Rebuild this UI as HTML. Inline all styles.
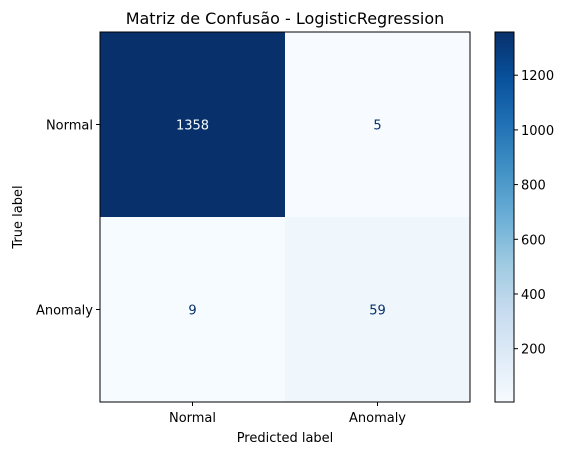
<!DOCTYPE html>
<html><head><meta charset="utf-8"><style>
body{margin:0;background:#fff;}
svg{display:block;font-family:"DejaVu Sans","Liberation Sans",sans-serif;}
</style></head><body>
<svg id="chart" width="568" height="455"></svg>
<script>
const classes = ["Normal", "Anomaly"];
const matrix = [[1358, 5], [9, 59]];
const cbTicks = [200, 400, 600, 800, 1000, 1200];
const blues = ["#f7fbff","#deebf7","#c6dbef","#9ecae1","#6baed6","#4292c6","#2171b5","#08519c","#08306b"];

const NS = "http://www.w3.org/2000/svg";
const svg = document.getElementById("chart");
function mk(tag, attrs, parent){const e=document.createElementNS(NS,tag);for(const k in attrs)e.setAttribute(k,attrs[k]);(parent||svg).appendChild(e);return e;}
function hex(h){return [1,3,5].map(i=>parseInt(h.substr(i,2),16));}
function cmap(t){t=Math.max(0,Math.min(1,t));const p=t*(blues.length-1);const i=Math.min(Math.floor(p),blues.length-2);const f=p-i;const a=hex(blues[i]),b=hex(blues[i+1]);return "rgb("+a.map((v,k)=>Math.round(v+(b[k]-v)*f)).join(",")+")";}

const X0=100,Y0=32,W=370,H=370;
const n=classes.length, cw=W/n, ch=H/n;
const all=matrix.flat(); const vmin=Math.min(...all), vmax=Math.max(...all);
const norm=v=>(v-vmin)/(vmax-vmin);

const title=mk("text",{x:285,y:24,"text-anchor":"middle","font-size":"16px"});
title.textContent="Matriz de Confusão - LogisticRegression";



matrix.forEach((row,r)=>row.forEach((v,c)=>{
  const rect=mk("rect",{x:X0+c*cw,y:Y0+r*ch,width:cw,height:ch,fill:cmap(norm(v))});
  
  
  const t=mk("text",{x:X0+(c+.5)*cw,y:Y0+(r+.5)*ch+5,"text-anchor":"middle","font-size":"13px",fill:norm(v)>0.5?"#f7fbff":"#08306b"});
  t.textContent=v;
  
  
}));
const frame=mk("rect",{x:X0,y:Y0,width:W,height:H,fill:"none",stroke:"#000","stroke-width":1});



classes.forEach((c,i)=>{
  const cx=X0+(i+.5)*cw;
  mk("line",{x1:cx,x2:cx,y1:Y0+H,y2:Y0+H+4,stroke:"#000"});
  const t=mk("text",{x:cx,y:Y0+H+20,"text-anchor":"middle","font-size":"13px"});t.textContent=c;
  
  
  const cy=Y0+(i+.5)*ch;
  mk("line",{x1:X0-4,x2:X0,y1:cy,y2:cy,stroke:"#000"});
  const u=mk("text",{x:X0-7,y:cy+5,"text-anchor":"end","font-size":"13px"});u.textContent=c;
  
  
});
const xl=mk("text",{x:X0+W/2,y:442,"text-anchor":"middle","font-size":"13px"});xl.textContent="Predicted label";


const yl=mk("text",{x:22,y:Y0+H/2,"text-anchor":"middle","font-size":"13px",transform:"rotate(-90 22 "+(Y0+H/2)+")"});yl.textContent="True label";



const CX=495,CW=19;
const defs=mk("defs",{});
const g=mk("linearGradient",{id:"cb",x1:0,y1:1,x2:0,y2:0},defs);
blues.forEach((c,i)=>mk("stop",{offset:i/(blues.length-1),"stop-color":c},g));
const cb=mk("rect",{x:CX,y:Y0,width:CW,height:H,fill:"url(#cb)",stroke:"#000","stroke-width":1});


cbTicks.forEach(v=>{
  const y=Y0+H-norm(v)*H;
  mk("line",{x1:CX+CW,x2:CX+CW+4,y1:y,y2:y,stroke:"#000"});
  const t=mk("text",{x:CX+CW+7,y:y+5,"font-size":"13px"});t.textContent=v;
  
  
});
</script>
</body></html>
